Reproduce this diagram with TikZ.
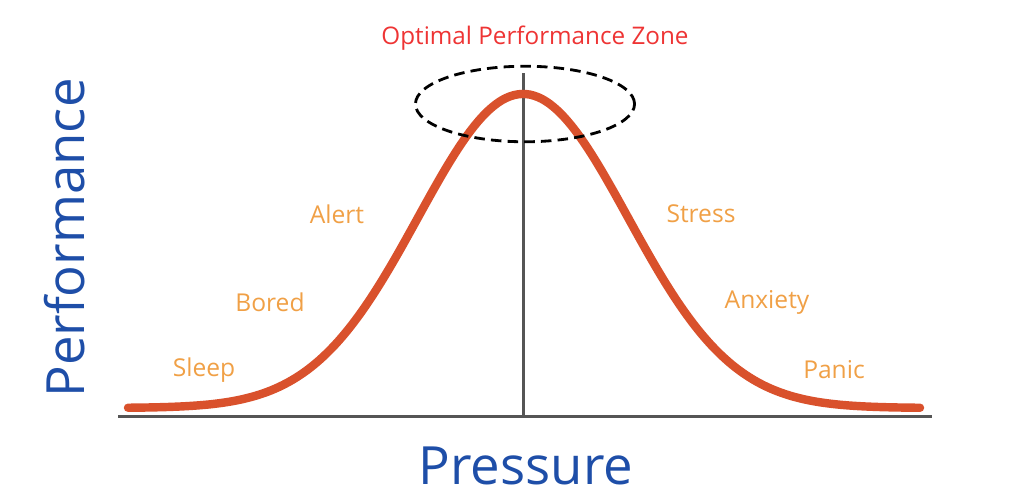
\documentclass[tikz,border=0pt]{standalone}
\usepackage{fontspec}
\setmainfont{Open Sans}
\usetikzlibrary{shapes.geometric}

\begin{document}
\begin{tikzpicture}[x=0.02cm,y=-0.02cm]

\definecolor{kurve}{RGB}{217,81,44};
\definecolor{achse}{RGB}{85,85,85};
\definecolor{zonerot}{RGB}{238,52,52};
\definecolor{stufe}{RGB}{240,160,70};
\definecolor{titelb}{RGB}{30,78,168};

\useasboundingbox (0,0) rectangle (1024,498);

\coordinate (xl) at (118,416);
\coordinate (xr) at (932,416);
\coordinate (yb) at (523,416);
\coordinate (yt) at (523,73);

\draw[achse,line width=1.7pt] (xl) -- (xr);
\draw[achse,line width=1.7pt] (yb) -- (yt);

\draw[kurve,line width=4.8pt,line cap=round] plot[domain=128:920,samples=200,smooth]
  (\x,{408-314*exp(-0.5*((\x-523)/105)^2)});

\node[draw,line width=1.6pt,dash pattern=on 6pt off 3.5pt,ellipse,minimum width=124.7pt,minimum height=43pt,inner sep=0pt] (zone) at (525,104) {};
\node[zonerot,font=\fontsize{13.8}{15}\selectfont] (opt) at (535,38) {Optimal Performance Zone};

\node[stufe,font=\fontsize{14}{16}\selectfont] (alert) at (337,214) {Alert};
\node[stufe,font=\fontsize{14}{16}\selectfont] (bored) at (270,302) {Bored};
\node[stufe,font=\fontsize{14}{16}\selectfont] (sleep) at (204,370) {Sleep};
\node[stufe,font=\fontsize{14}{16}\selectfont] (stress) at (701,214) {Stress};
\node[stufe,font=\fontsize{14}{16}\selectfont] (anx) at (767,302) {Anxiety};
\node[stufe,font=\fontsize{14}{16}\selectfont] (panic) at (834,370) {Panic};

\node[titelb,rotate=90,font=\fontsize{30}{33}\selectfont] (perf) at (65,238) {Performance};
\node[titelb,font=\fontsize{30}{33}\selectfont] (press) at (526,466) {Pressure};

\end{tikzpicture}
\end{document}
